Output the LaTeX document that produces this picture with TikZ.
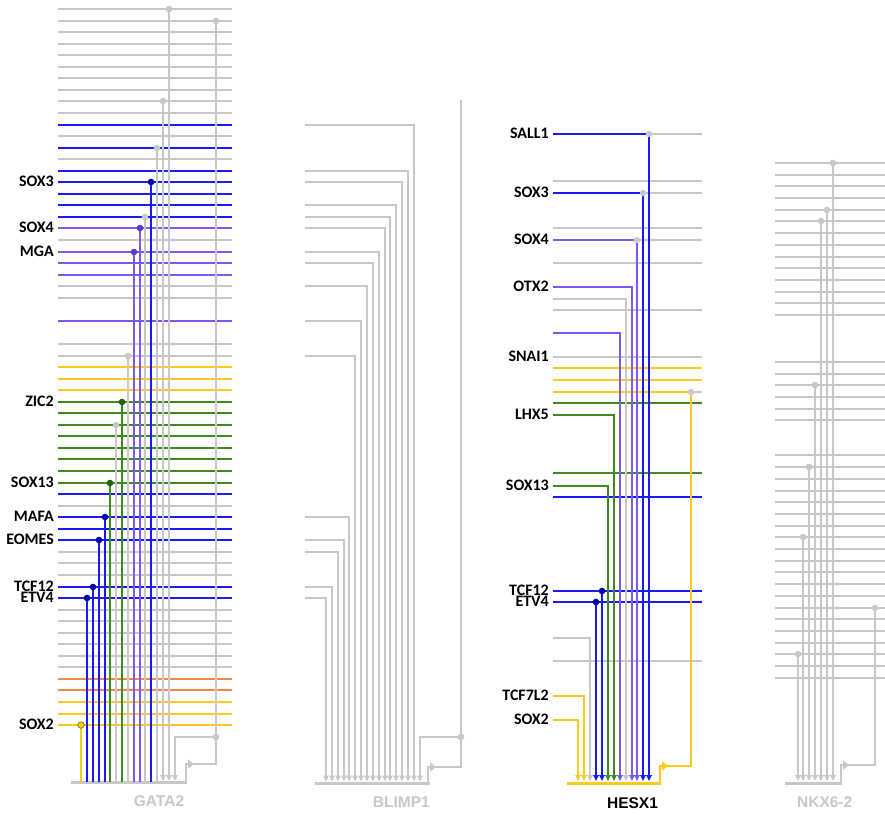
\documentclass[tikz,border=0pt]{standalone}
\usepackage{fontspec}
\setmainfont{Carlito}
\newfontfamily\genefont{Liberation Sans}
\usetikzlibrary{arrows.meta}
\definecolor{lg}{RGB}{200,200,200}
\definecolor{bl}{RGB}{25,25,250}
\definecolor{bld}{RGB}{0,0,175}
\definecolor{pu}{RGB}{125,88,245}
\definecolor{pud}{RGB}{90,60,200}
\definecolor{gr}{RGB}{62,138,28}
\definecolor{grd}{RGB}{40,95,15}
\definecolor{ye}{RGB}{255,202,30}
\definecolor{yed}{RGB}{130,100,0}
\definecolor{orr}{RGB}{242,135,72}
\tikzset{
  hrow/.style={line width=2pt},
  vln/.style={line width=2pt},
  arr/.style={-{Triangle[width=5.5pt,length=6pt]}},
  parr/.style={-{Triangle[width=9pt,length=6pt]}},
  genebar/.style={line width=3pt},
  tf/.style={font=\fontsize{16}{16}\selectfont\bfseries, anchor=east, inner sep=0pt, text height=9.5pt, text depth=0pt},
  gene/.style={font=\genefont\fontsize{15.5}{16}\selectfont\bfseries, text=lg, inner sep=0pt},
}
\begin{document}
\begin{tikzpicture}[x=1pt,y=-1pt]
\useasboundingbox (0,0) rectangle (885,814);

% ================= GATA2 =================
\foreach \i/\c in {0/lg,1/lg,2/lg,3/lg,4/lg,5/lg,6/lg,7/lg,8/lg,9/lg,10/bl,11/lg,12/bl,13/lg,14/bl,15/bl,16/bl,17/bl,18/bl,19/pu,20/lg,21/pu,22/pu,23/pu,24/lg,25/lg,27/pu,29/lg,30/lg,31/ye,32/ye,33/ye,34/gr,35/gr,36/gr,37/gr,38/gr,39/gr,40/gr,41/gr,42/bl,43/lg,44/bl,45/bl,46/bl,47/lg,48/lg,49/lg,50/bl,51/bl,52/lg,53/lg,54/lg,55/lg,56/lg,57/lg,58/orr,59/orr,60/ye,61/ye,62/ye}
  {\draw[hrow,\c] (58,{round(9+11.55*\i)}) -- (232,{round(9+11.55*\i)});}
% bar and promoter
\draw[genebar,lg] (71,782.5) -- (187,782.5);
\coordinate (gbus) at (216,21);
\coordinate (gself) at (216,737);
\draw[vln,lg] (gbus) -- (216,764) -- (192,764);
\draw[vln,lg,parr] (186,782) -- (186,764) -- (194,764);
\draw[vln,lg,arr] (gself) -| (175,781);
% verticals without arrows
\foreach \k/\i/\c in {0/62/ye,1/51/bl,2/50/bl,3/46/bl,4/44/bl,5/41/gr,6/36/lg,7/34/gr,8/30/lg,9/21/pu,10/19/pu,11/18/lg,12/15/bl,13/12/lg}
  {\draw[vln,\c] ({round(81.3+5.83*\k)},{round(9+11.55*\i)}) -- ({round(81.3+5.83*\k)},781.5);}
\foreach \k/\i in {14/8,15/0}
  {\draw[vln,lg,arr] ({round(81.3+5.83*\k)},{round(9+11.55*\i)}) -- ({round(81.3+5.83*\k)},781);}
% dots
\foreach \k/\i/\d in {1/51/bld,2/50/bld,3/46/bld,4/44/bld,5/41/grd,6/36/lg,7/34/grd,8/30/lg,9/21/pud,10/19/pud,11/18/lg,12/15/bld,13/12/lg,14/8/lg,15/0/lg}
  {\fill[\d] ({round(81.3+5.83*\k)},{round(9+11.55*\i)}) circle (3.3);}
\filldraw[fill=ye,draw=yed,line width=0.6pt] (81,{round(9+11.55*62)}) circle (3.3);
\fill[lg] (gbus) circle (3.3);
\fill[lg] (gself) circle (3.3);
% labels
\foreach \i/\t in {15/SOX3,19/SOX4,21/MGA,34/ZIC2,41/SOX13,44/MAFA,46/EOMES,50/TCF12,51/ETV4,62/SOX2}
  {\node[tf] (g\t) at (54,{round(9+11.55*\i)}) {\t};}
\node[gene] (gata2) at (159,800.7) {GATA2};

% ================= BLIMP1 =================
\draw[genebar,lg] (315,783.5) -- (430,783.5);
\coordinate (bbus) at (461,100);
\coordinate (bself) at (461,737);
\draw[vln,lg] (bbus) -- (461,767) -- (434,767);
\draw[vln,lg,parr] (428,782) -- (428,767) -- (436,767);
\draw[vln,lg,arr] (bself) -| (420,781.5);
\foreach \k/\i in {0/51,1/50,2/47,3/46,4/44,5/30,6/27,7/24,8/22,9/21,10/19,11/18,12/17,13/15,14/14,15/10}
  {\draw[vln,lg,arr] (305,{round(9+11.55*\i)}) -| ({round(326+5.85*\k)},781.5);}
\fill[lg] (bself) circle (3.3);
\node[gene] (blimp1) at (401.3,801.7) {BLIMP1};

% ================= HESX1 =================
\foreach \y in {134,181,193,228,240,263,310,357,392}
  {\draw[hrow,lg] (553,\y) -- (702,\y);}
\foreach \y/\c in {368/ye,380/ye,403/gr,473/gr,497/bl,591/bl,602/bl,661/lg}
  {\draw[hrow,\c] (553,\y) -- (702,\y);}
\draw[hrow,ye] (553,392) -- (691,392);
\draw[genebar,ye] (567,783.5) -- (661,783.5);
\coordinate (hbus) at (691,392);
\draw[vln,ye] (hbus) -- (691,766) -- (666,766);
\draw[vln,ye,parr] (660,782) -- (660,766) -- (668,766);
\foreach \y/\k/\c in {134/12/bl,193/11/bl,240/10/pu,287/9/pu,299/8/lg,333/7/pu,415/6/gr,486/5/gr,638/2/lg,696/1/ye,720/0/ye}
  {\draw[vln,\c,arr] (553,\y) -| ({round(578.3+5.92*\k)},781);}
\foreach \y/\k in {591/4,602/3}
  {\draw[vln,bl,arr] ({round(578.3+5.92*\k)},\y) -- ({round(578.3+5.92*\k)},781);
   \fill[bld] ({round(578.3+5.92*\k)},\y) circle (3.3);}
\foreach \y/\k in {134/12,193/11,240/10}
  {\fill[lg] ({round(578.3+5.92*\k)},\y) circle (3.2);}
\fill[lg] (hbus) circle (3.3);
\foreach \y/\t in {134/SALL1,193/SOX3,240/SOX4,287/OTX2,357/SNAI1,415/LHX5,486/SOX13,591/TCF12,602/ETV4,696/TCF7L2,720/SOX2}
  {\node[tf] (h\t) at (549,\y) {\t};}
\node[gene,text=black] (hesx1) at (632.5,802.7) {HESX1};

% ================= NKX6-2 =================
\foreach \k in {0,...,13,17,18,19,20,21,22,25,26,...,44}
  {\draw[hrow,lg] (775,{round(163+11.7*\k)}) -- (885,{round(163+11.7*\k)});}
\draw[genebar,lg] (785,783.5) -- (842,783.5);
\coordinate (nbus) at (875,{round(163+11.7*38)});
\draw[vln,lg] (nbus) -- (875,765) -- (847,765);
\draw[vln,lg,parr] (841,782) -- (841,765) -- (849,765);
\foreach \x/\k in {833/0,827/4,821/5,815/19,809/26,803/32,798/42}
  {\draw[vln,lg,arr] (\x,{round(163+11.7*\k)}) -- (\x,781);
   \fill[lg] (\x,{round(163+11.7*\k)}) circle (3.3);}
\fill[lg] (nbus) circle (3.3);
\node[gene] (nkx62) at (824.7,801.7) {NKX6-2};
\end{tikzpicture}
\end{document}
